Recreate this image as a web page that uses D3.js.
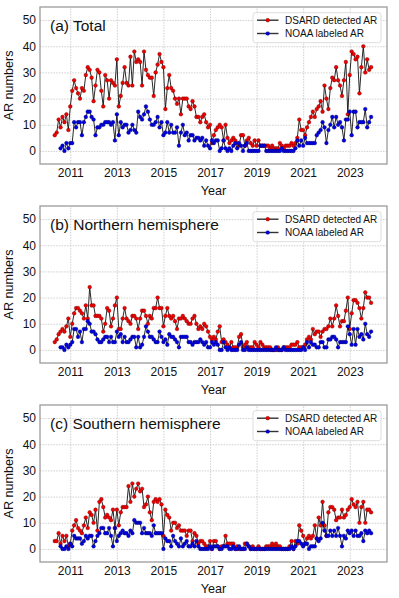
<!DOCTYPE html>
<html>
<head>
<meta charset="utf-8">
<script src="https://cdn.jsdelivr.net/npm/d3@7"></script>
<style>
body { margin: 0; background: #fff; }
text { font-family: "Liberation Sans", Arial, Helvetica, sans-serif; fill: #111; }
</style>
</head>
<body>
<svg id="chart" width="399" height="598"></svg>
<script>
// Monthly AR counts, May 2010 .. Dec 2023 (164 months)
var firstYear = 2010, firstMonth = 5;
var yearTicks = [2011, 2013, 2015, 2017, 2019, 2021, 2023];
var countTicks = [0, 10, 20, 30, 40, 50];
var panelTitles = ["(a) Total", "(b) Northern hemisphere", "(c) Southern hemisphere"];
var seriesNames = ["DSARD detected AR", "NOAA labeled AR"];

var dsardTotal = [
  6, 7, 12, 9, 13, 11, 14, 8,
  17, 23, 27, 24, 22, 20, 24, 23, 29, 32, 31, 28,
  19, 25, 31, 30, 23, 17, 29, 27, 20, 27, 26, 25,
  35, 17, 21, 26, 32, 26, 25, 36, 25, 38, 34, 35,
  34, 25, 38, 31, 29, 28, 28, 21, 30, 33, 37, 34,
  32, 16, 24, 29, 24, 23, 20, 18, 20, 14, 20, 20,
  20, 17, 16, 19, 17, 13, 13, 11, 13, 14, 11, 9,
  10, 3, 6, 8, 9, 10, 9, 4, 10, 5, 3, 4,
  5, 4, 3, 2, 6, 6, 2, 4, 5, 3, 2, 4,
  2, 4, 2, 2, 2, 2, 2, 1, 2, 1, 1, 1,
  3, 2, 1, 2, 2, 2, 3, 2, 3, 5, 12, 8,
  8, 6, 9, 11, 13, 15, 13, 16, 17, 19, 15, 25,
  20, 16, 24, 28, 27, 32, 27, 25, 21, 27, 34, 14,
  29, 38, 37, 35, 36, 22, 32, 40, 30, 35, 31, 32
];
var noaaTotal = [
  null, null, null, 1, 2, 0, 3, 1,
  3, 3, 11, 9, 11, 11, 6, 11, 13, 15, 15, 13,
  12, 6, 9, 9, 10, 10, 11, 11, 11, 10, 11, 4,
  14, 6, 11, 9, 10, 10, 7, 8, 10, 8, 7, 15,
  13, 12, 14, 17, 15, 12, 10, 10, 11, 13, 9, 11,
  6, 7, 11, 7, 10, 7, 7, 9, 2, 7, 10, 6,
  7, 4, 6, 6, 4, 5, 5, 4, 5, 2, 4, 2,
  1, 4, 3, 4, 4, 0, 1, 4, 1, 0, 1, 0,
  2, 3, 1, 3, 2, 0, 2, 3, 0, 0, 0, 0,
  0, 0, 2, 2, 2, 0, 0, 0, 0, 0, 0, 0,
  0, 1, 0, 0, 0, 0, 0, 0, 1, 4, 2, 4,
  2, 5, 3, 3, 3, 3, 3, 6, 7, 8, 11, 9,
  3, 8, 10, 13, 9, 13, 10, 11, 9, 4, 12, 12,
  15, 6, 15, 15, 9, 11, 11, 11, 16, 9, 11, 13
];
var dsardNorth = [
  3, 4, 6, 7, 8, 7, 9, 12,
  5, 10, 14, 16, 16, 15, 14, 12, 17, 12, 24, 17,
  17, 13, 13, 13, 12, 7, 10, 16, 15, 9, 12, 17,
  20, 8, 8, 12, 16, 12, 11, 10, 13, 13, 12, 8,
  12, 15, 15, 13, 10, 13, 12, 16, 16, 20, 16, 16,
  9, 13, 16, 13, 12, 13, 11, 8, 12, 12, 13, 12,
  11, 10, 10, 12, 13, 10, 8, 9, 8, 10, 9, 7,
  5, 4, 5, 4, 7, 9, 3, 4, 3, 2, 1, 3,
  1, 1, 1, 5, 6, 1, 2, 3, 1, 1, 1, 3,
  2, 1, 3, 2, 1, 1, 1, 1, 0, 0, 0, 1,
  0, 0, 1, 1, 1, 1, 2, 2, 2, 3, 1, 1,
  1, 2, 4, 5, 4, 8, 6, 7, 7, 5, 7, 8,
  8, 9, 12, 9, 12, 17, 13, 9, 11, 11, 15, 20,
  8, 14, 19, 19, 18, 16, 12, 16, 22, 20, 20, 18
];
var noaaNorth = [
  null, null, null, 1, 1, 0, 2, 1,
  2, 3, 8, 8, 5, 7, 3, 8, 8, 11, 10, 7,
  7, 6, 4, 3, 3, 4, 5, 5, 3, 5, 3, 3,
  7, 5, 6, 3, 5, 3, 3, 4, 5, 5, 1, 5,
  1, 2, 5, 9, 7, 5, 5, 4, 3, 3, 7, 5,
  3, 4, 2, 6, 5, 5, 4, 3, 1, 5, 5, 5,
  5, 3, 3, 2, 3, 3, 3, 4, 3, 2, 3, 1,
  1, 3, 2, 3, 2, 0, 0, 3, 1, 0, 1, 0,
  0, 0, 0, 2, 3, 0, 0, 1, 0, 0, 0, 0,
  0, 0, 0, 0, 0, 0, 0, 0, 0, 0, 1, 0,
  0, 0, 1, 0, 0, 0, 0, 0, 0, 0, 0, 0,
  1, 0, 3, 1, 3, 2, 2, 1, 1, 3, 3, 1,
  1, 4, 4, 5, 5, 4, 1, 3, 3, 3, 3, 9,
  6, 2, 8, 2, 8, 5, 6, 4, 10, 6, 5, 7
];
var dsardSouth = [
  3, 3, 6, 2, 5, 3, 5, 1,
  2, 7, 9, 11, 8, 7, 6, 9, 12, 8, 14, 13,
  10, 15, 7, 18, 19, 16, 12, 13, 12, 11, 15, 8,
  15, 9, 14, 16, 16, 16, 24, 18, 25, 20, 23, 25,
  22, 23, 16, 17, 20, 14, 11, 18, 19, 18, 19, 17,
  5, 15, 13, 12, 7, 10, 10, 8, 9, 7, 7, 7,
  5, 7, 7, 3, 6, 5, 2, 3, 3, 2, 1, 1,
  3, 0, 3, 3, 1, 0, 1, 1, 5, 2, 2, 2,
  2, 0, 1, 0, 0, 0, 2, 2, 1, 0, 1, 0,
  0, 1, 0, 0, 0, 1, 1, 1, 2, 1, 2, 1,
  1, 0, 0, 0, 0, 1, 3, 0, 3, 2, 9, 7,
  5, 2, 4, 5, 4, 5, 9, 4, 12, 9, 18, 9,
  5, 14, 16, 16, 15, 11, 12, 12, 15, 12, 13, 15,
  16, 19, 17, 16, 18, 10, 16, 18, 10, 15, 15, 14
];
var noaaSouth = [
  null, null, null, 1, 0, 0, 1, 0,
  2, 1, 5, 4, 4, 4, 2, 3, 5, 4, 5, 5,
  1, 3, 5, 6, 8, 8, 6, 6, 8, 5, 1, 8,
  3, 5, 6, 7, 6, 6, 5, 7, 6, 11, 10, 10,
  10, 6, 8, 6, 6, 6, 5, 9, 6, 6, 6, 6,
  0, 4, 3, 3, 1, 5, 3, 2, 1, 4, 1, 2,
  3, 1, 1, 2, 1, 3, 1, 0, 0, 0, 0, 0,
  1, 0, 1, 1, 1, 0, 0, 1, 1, 1, 0, 0,
  1, 0, 0, 1, 0, 0, 0, 2, 1, 0, 0, 0,
  0, 0, 0, 0, 0, 0, 0, 0, 0, 0, 0, 0,
  0, 0, 0, 0, 0, 0, 1, 0, 1, 3, 3, 2,
  1, 2, 2, 0, 1, 1, 1, 4, 3, 4, 10, 7,
  5, 5, 7, 5, 7, 5, 8, 5, 1, 5, 4, 7,
  6, 7, 5, 7, 5, 5, 6, 3, 7, 6, 7, 6
];

// decimal year of each month
var months = dsardTotal.map(function(d, i) {
    var m = firstMonth - 1 + i;
    return firstYear + Math.floor(m / 12) + (m % 12) / 12;
});

var panels = [
    {title: panelTitles[0], dsard: dsardTotal, noaa: noaaTotal, top: 7},
    {title: panelTitles[1], dsard: dsardNorth, noaa: noaaNorth, top: 206},
    {title: panelTitles[2], dsard: dsardSouth, noaa: noaaSouth, top: 405}
];

var svg = d3.select("#chart");
var left = 40, right = 387, plotH = 157;
var colors = ["#f00000", "#0000e6"];
var edges = ["#700000", "#000060"];

var x = d3.scaleLinear().domain([2009.70, 2024.60]).range([left, right]);

panels.forEach(function(p) {
    var bottom = p.top + plotH;
    var y = d3.scaleLinear().domain([-5, 55]).range([bottom, p.top]);
    var g = svg.append("g");

    // grid
    g.append("g")
        .attr("transform", "translate(0," + bottom + ")")
        .call(d3.axisBottom(x).tickValues(yearTicks).tickSize(-plotH).tickFormat(""))
        .call(function(a) {
            a.select(".domain").remove();
            a.selectAll("line").attr("stroke", "#c4c4c4").attr("stroke-width", 0.8)
                .attr("stroke-dasharray", "1.5,1.2");
        });
    g.append("g")
        .attr("transform", "translate(" + left + ",0)")
        .call(d3.axisLeft(y).tickValues(countTicks).tickSize(-(right - left)).tickFormat(""))
        .call(function(a) {
            a.select(".domain").remove();
            a.selectAll("line").attr("stroke", "#c4c4c4").attr("stroke-width", 0.8)
                .attr("stroke-dasharray", "1.5,1.2");
        });

    // tick labels
    g.append("g")
        .attr("transform", "translate(0," + bottom + ")")
        .call(d3.axisBottom(x).tickValues(yearTicks).tickSize(0).tickPadding(4).tickFormat(d3.format("d")))
        .call(function(a) {
            a.select(".domain").remove();
            a.selectAll("text").attr("font-size", 12).attr("fill", "#111")
                .style("font-family", "'Liberation Sans', Arial, sans-serif");
        });
    g.append("g")
        .attr("transform", "translate(" + left + ",0)")
        .call(d3.axisLeft(y).tickValues(countTicks).tickSize(0).tickPadding(4))
        .call(function(a) {
            a.select(".domain").remove();
            a.selectAll("text").attr("font-size", 12).attr("fill", "#111")
                .style("font-family", "'Liberation Sans', Arial, sans-serif");
        });

    // axis titles
    g.append("text")
        .attr("x", (left + right) / 2)
        .attr("y", bottom + 30.5)
        .attr("text-anchor", "middle")
        .attr("font-size", 12.6)
        .text("Year");
    g.append("text")
        .attr("transform", "translate(13," + (p.top + plotH / 2) + ") rotate(-90)")
        .attr("text-anchor", "middle")
        .attr("font-size", 12.6)
        .text("AR numbers");

    // series
    var clip = "clip" + p.top;
    g.append("clipPath").attr("id", clip)
        .append("rect").attr("x", left).attr("y", p.top).attr("width", right - left).attr("height", plotH);
    var plot = g.append("g").attr("clip-path", "url(#" + clip + ")");

    [p.dsard, p.noaa].forEach(function(vals, k) {
        var pts = vals.map(function(v, i) { return {t: months[i], v: v}; })
                      .filter(function(d) { return d.v !== null; });
        var line = d3.line()
                     .x(function(d) { return x(d.t); })
                     .y(function(d) { return y(d.v); });
        plot.append("path")
            .datum(pts)
            .attr("fill", "none")
            .attr("stroke", "#111")
            .attr("stroke-width", 0.9)
            .attr("d", line);
        plot.selectAll(".pt" + k)
            .data(pts)
            .enter()
            .append("circle")
              .attr("cx", function(d) { return x(d.t); })
              .attr("cy", function(d) { return y(d.v); })
              .attr("r", 1.85)
              .attr("fill", colors[k])
              .attr("stroke", edges[k])
              .attr("stroke-width", 0.4);
    });

    // frame
    g.append("rect")
        .attr("x", left).attr("y", p.top)
        .attr("width", right - left).attr("height", plotH)
        .attr("fill", "none")
        .attr("stroke", "#9c9c9c")
        .attr("stroke-width", 1.3);

    // panel title
    g.append("text")
        .attr("x", 50)
        .attr("y", p.top + 23.5)
        .attr("font-size", 15.5)
        .text(p.title);

    // legend
    var lg = g.append("g").attr("transform", "translate(253," + (p.top + 5.7) + ")");
    lg.append("rect")
        .attr("width", 128).attr("height", 30)
        .attr("rx", 2.5)
        .attr("fill", "#fff").attr("fill-opacity", 0.8)
        .attr("stroke", "#d4d4d4").attr("stroke-width", 0.8);
    seriesNames.forEach(function(name, k) {
        var ly = 7.5 + k * 13.3;
        lg.append("line")
            .attr("x1", 4).attr("x2", 25.5).attr("y1", ly).attr("y2", ly)
            .attr("stroke", "#333").attr("stroke-width", 1.4);
        lg.append("circle")
            .attr("cx", 14.7).attr("cy", ly).attr("r", 1.85)
            .attr("fill", colors[k]).attr("stroke", edges[k]).attr("stroke-width", 0.4);
        lg.append("text")
            .attr("x", 32).attr("y", ly + 3.6)
            .attr("font-size", 10)
            .text(name);
    });
});
</script>
</body>
</html>
